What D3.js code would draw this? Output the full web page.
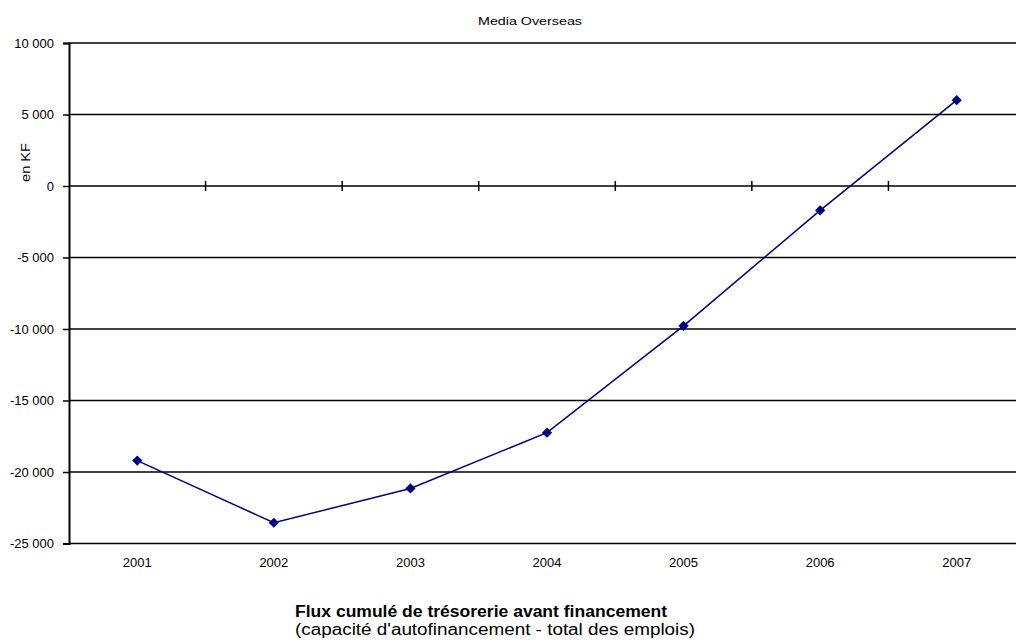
<!DOCTYPE html>
<html>
  <head>
    <meta charset="utf-8" />
    <script src="https://d3js.org/d3.v7.min.js"></script>
    <style>
      body { margin: 0; background: #fff; }
      text { font-family: "Liberation Sans", Arial, sans-serif; fill: #000; }
    </style>
  </head>
  <body>
    <svg id="chart" width="1016" height="640"></svg>
    <script>
      var years = ["2001", "2002", "2003", "2004", "2005", "2006", "2007"];
      var flux = [-19200, -23550, -21150, -17250, -9780, -1700, 6000];
      var yTicks = [10000, 5000, 0, -5000, -10000, -15000, -20000, -25000];

      var svg = d3.select("#chart");
      var plotLeft = 69, plotRight = 1025, plotTop = 43, plotBottom = 543.5;

      var x = d3.scaleBand().domain(years).range([plotLeft, plotRight]);
      var y = d3.scaleLinear().domain([-25000, 10000]).range([plotBottom, plotTop]);

      // gridlines
      svg.append("g").selectAll("line").data(yTicks).enter().append("line")
        .attr("x1", plotLeft).attr("x2", 1016)
        .attr("y1", function(d) { return y(d); })
        .attr("y2", function(d) { return y(d); })
        .attr("stroke", "#000").attr("stroke-width", 1.5);

      // y axis
      var yAxis = d3.axisLeft(y).tickValues(yTicks).tickSize(6).tickPadding(9)
        .tickFormat(function(d) { return d3.format(",")(d).replace(/,/g, " ").replace("−", "-"); });
      var gy = svg.append("g").attr("transform", "translate(" + plotLeft + ",0)").call(yAxis);
      gy.select(".domain").attr("stroke", "#000").attr("stroke-width", 2);
      gy.selectAll(".tick line").attr("stroke", "#000").attr("stroke-width", 1.5);
      gy.selectAll("text").style("font-size", "13px").style("font-family", "Liberation Sans, Arial, sans-serif");

      // category ticks crossing the zero line
      var bounds = years.slice(1).map(function(d) { return x(d); });
      svg.append("g").selectAll("line").data(bounds).enter().append("line")
        .attr("x1", function(d) { return d; }).attr("x2", function(d) { return d; })
        .attr("y1", y(0) - 5).attr("y2", y(0) + 5)
        .attr("stroke", "#000").attr("stroke-width", 1.5);

      // category labels below plot
      svg.append("g").selectAll("text").data(years).enter().append("text")
        .attr("x", function(d) { return x(d) + x.bandwidth() / 2; })
        .attr("y", 567)
        .attr("text-anchor", "middle")
        .style("font-size", "13px")
        .text(function(d) { return d; });

      // line
      var line = d3.line()
        .x(function(d, i) { return x(years[i]) + x.bandwidth() / 2; })
        .y(function(d) { return y(d); });
      svg.append("path").datum(flux)
        .attr("d", line)
        .attr("fill", "none")
        .attr("stroke", "#000080")
        .attr("stroke-width", 1.5);

      svg.append("g").selectAll("path").data(flux).enter().append("path")
        .attr("d", d3.symbol().type(d3.symbolSquare).size(52))
        .attr("transform", function(d, i) {
          return "translate(" + (x(years[i]) + x.bandwidth() / 2) + "," + y(d) + ") rotate(45)";
        })
        .attr("fill", "#000080");

      // titles
      svg.append("text").attr("x", 478).attr("y", 25)
        .attr("textLength", 104).attr("lengthAdjust", "spacingAndGlyphs")
        .style("font-size", "11.5px").text("Media Overseas");

      svg.append("text").attr("transform", "translate(30,182) rotate(-90)")
        .attr("textLength", 39).attr("lengthAdjust", "spacingAndGlyphs")
        .style("font-size", "12px").text("en KF");

      svg.append("text").attr("x", 295).attr("y", 617)
        .attr("textLength", 372).attr("lengthAdjust", "spacingAndGlyphs")
        .style("font-size", "16px").style("font-weight", "bold")
        .text("Flux cumulé de trésorerie avant financement");
      svg.append("text").attr("x", 295).attr("y", 635)
        .attr("textLength", 400).attr("lengthAdjust", "spacingAndGlyphs")
        .style("font-size", "16px")
        .text("(capacité d'autofinancement - total des emplois)");
    </script>
  </body>
</html>
